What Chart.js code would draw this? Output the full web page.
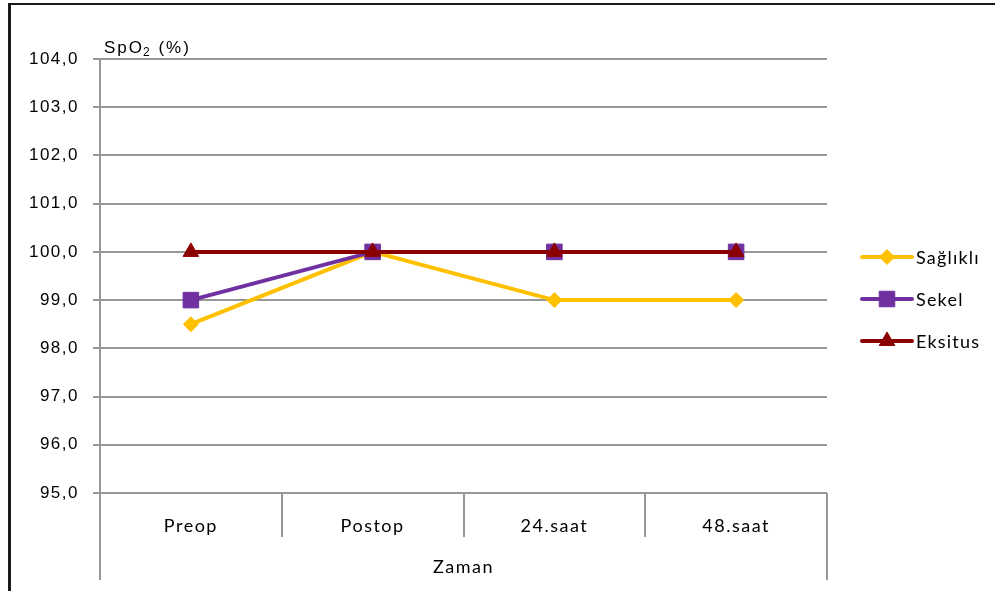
<!DOCTYPE html>
<html>
<head>
<meta charset="utf-8">
<script src="https://cdn.jsdelivr.net/npm/chart.js@4/dist/chart.umd.min.js"></script>
<style>
  html, body { margin: 0; padding: 0; background: #fff; overflow: hidden; }
  #frame { position: absolute; left: 8px; top: 3px; width: 1100px; height: 700px;
           border-top: 2px solid #1a1a1a; border-left: 3px solid #1a1a1a; box-sizing: border-box; }
  #wrap { position: absolute; left: 0; top: 0; width: 995px; height: 591px; }
</style>
</head>
<body>
<div id="frame"></div>
<div id="wrap"><canvas id="c"></canvas></div>
<script>
// Time points and SpO2 (%) means per outcome group
const categories = ['Preop', 'Postop', '24.saat', '48.saat'];
const saglikli = [98.5, 100.0, 99.0, 99.0];
const sekel    = [99.0, 100.0, 100.0, 100.0];
const eksitus  = [100.0, 100.0, 100.0, 100.0];
const seriesNames = ['Sağlıklı', 'Sekel', 'Eksitus'];
const yTicks = [95, 96, 97, 98, 99, 100, 101, 102, 103, 104];
const yTitleParts = ['SpO', '2', ' (%)'];
const xTitle = 'Zaman';

const colors = ['#FFC000', '#7030A0', '#8B0000'];
const markers = [
  { pointStyle: 'rectRot', radius: 7.5 },
  { pointStyle: 'rect', radius: 11 },
  { pointStyle: 'triangle', radius: 9 }
];
const gridColor = '#979797';
const spacing = '1.5px';
const sansFont = '"Liberation Sans", Arial, sans-serif';
const labelFont = 'Lato, "Open Sans", sans-serif';

const seriesData = [saglikli, sekel, eksitus];
const datasets = seriesData.map((d, i) => ({
  label: seriesNames[i],
  data: d,
  borderColor: colors[i],
  backgroundColor: colors[i],
  borderWidth: 4,
  pointStyle: markers[i].pointStyle,
  pointRadius: markers[i].radius,
  pointHoverRadius: markers[i].radius,
  pointBackgroundColor: colors[i],
  pointBorderColor: colors[i],
  pointBorderWidth: 1,
  tension: 0,
  order: 2 - i
}));

const decor = {
  id: 'decor',
  beforeLayout(chart) { chart.ctx.letterSpacing = spacing; },
  beforeDraw(chart) { chart.ctx.letterSpacing = spacing; },
  afterDraw(chart) {
    const { ctx, chartArea: a, scales: { x } } = chart;
    ctx.save();
    // category separators under the plot; outer ones run down past the axis title
    ctx.strokeStyle = gridColor;
    ctx.lineWidth = 2;
    for (let i = 0; i <= categories.length; i++) {
      const px = Math.round(x.getPixelForValue(i - 0.5));
      const edge = (i === 0 || i === categories.length);
      ctx.beginPath();
      ctx.moveTo(px, a.bottom);
      ctx.lineTo(px, a.bottom + (edge ? 87 : 44));
      ctx.stroke();
    }

    // y axis title with subscript
    ctx.fillStyle = '#000';
    ctx.textBaseline = 'alphabetic';
    ctx.textAlign = 'left';
    ctx.letterSpacing = '2px';
    let tx = a.left + 4;
    const ty = a.top - 6;
    ctx.font = '17px ' + sansFont;
    ctx.fillText(yTitleParts[0], tx, ty);
    tx += ctx.measureText(yTitleParts[0]).width - 1;
    ctx.font = '12px ' + sansFont;
    ctx.fillText(yTitleParts[1], tx, ty + 3);
    tx += ctx.measureText(yTitleParts[1]).width;
    ctx.font = '17px ' + sansFont;
    ctx.fillText(yTitleParts[2], tx, ty);

    // legend on the right
    const lx = a.right + 35, lw = 50, rowTop = 257, rowGap = 42;
    chart.data.datasets.forEach((ds, i) => {
      const ly = rowTop + i * rowGap;
      ctx.strokeStyle = ds.borderColor;
      ctx.lineWidth = 4;
      ctx.lineCap = 'round';
      ctx.beginPath();
      ctx.moveTo(lx, ly);
      ctx.lineTo(lx + lw, ly);
      ctx.stroke();
      ctx.lineCap = 'butt';
      ctx.fillStyle = ds.pointBackgroundColor;
      ctx.strokeStyle = ds.pointBorderColor;
      ctx.lineWidth = 1;
      Chart.helpers.drawPoint(ctx, {
        pointStyle: ds.pointStyle, radius: ds.pointRadius, rotation: 0, borderWidth: 1
      }, lx + lw / 2, ly);
      ctx.fillStyle = '#000';
      ctx.font = '18px ' + labelFont;
      ctx.textBaseline = 'middle';
      ctx.letterSpacing = '1.2px';
      ctx.fillText(ds.label, lx + lw + 4, ly + 1);
    });
    ctx.restore();
  }
};

new Chart(document.getElementById('c'), {
  type: 'line',
  data: { labels: categories, datasets },
  plugins: [decor],
  options: {
    responsive: true,
    maintainAspectRatio: false,
    devicePixelRatio: 1,
    animation: false,
    layout: { padding: { left: 0, top: 59, right: 168, bottom: 0 } },
    plugins: { legend: { display: false }, tooltip: { enabled: false } },
    scales: {
      x: {
        type: 'category',
        offset: true,
        grid: { display: false },
        border: { display: false },
        ticks: {
          color: '#000',
          padding: 14,
          font: { family: labelFont, size: 18 }
        },
        title: {
          display: true,
          text: xTitle,
          color: '#000',
          font: { family: labelFont, size: 18 },
          padding: { top: 0, bottom: 13 }
        },
        afterFit(s) { s.height = 98; }
      },
      y: {
        min: yTicks[0],
        max: yTicks[yTicks.length - 1],
        afterBuildTicks(s) { s.ticks = yTicks.map(v => ({ value: v })); },
        grid: { color: gridColor, lineWidth: 2, drawTicks: true, tickLength: 7 },
        border: { display: true, color: gridColor, width: 2 },
        ticks: {
          color: '#000',
          padding: 14,
          font: { family: sansFont, size: 17 },
          callback: v => Number(v).toFixed(1).replace('.', ',')
        },
        afterFit(s) { s.width = 100; }
      }
    }
  }
});
</script>
</body>
</html>
